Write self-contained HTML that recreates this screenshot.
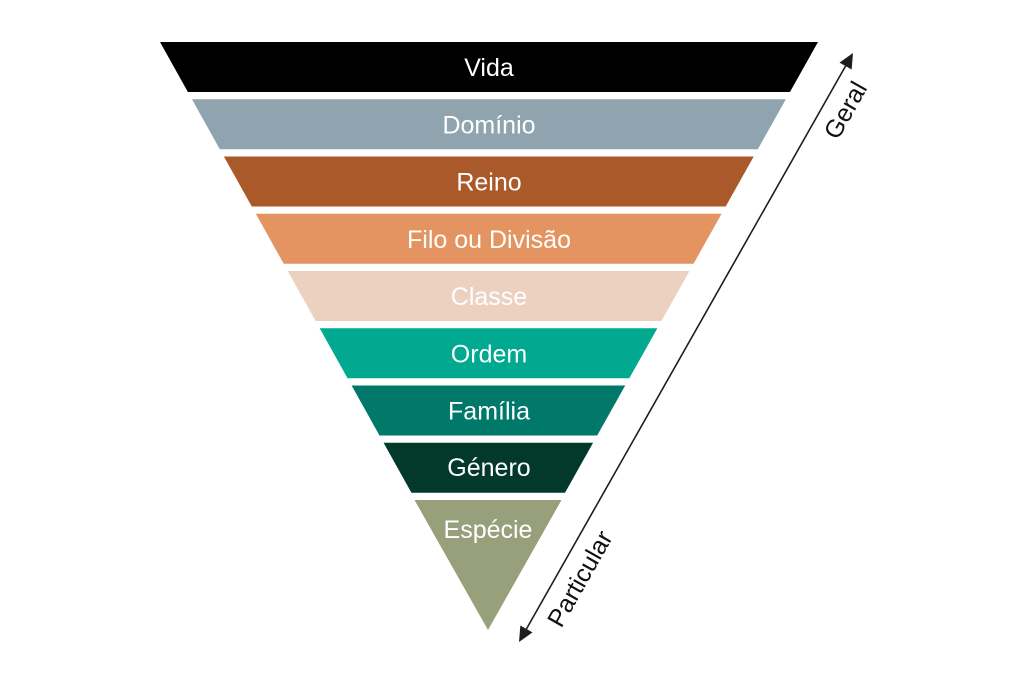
<!DOCTYPE html>
<html>
<head>
<meta charset="utf-8">
<style>
  html, body { margin: 0; padding: 0; background: #ffffff; }
  body { width: 1024px; height: 683px; overflow: hidden; }
  svg { display: block; }
  text { font-family: "Liberation Sans", "DejaVu Sans", sans-serif; font-size: 25px; fill: #ffffff; text-anchor: middle; }
  .lbl { fill: #111111; }
</style>
</head>
<body>
<svg width="1024" height="683" viewBox="0 0 1024 683" xmlns="http://www.w3.org/2000/svg">
  <rect width="1024" height="683" fill="#ffffff"/>

  <!-- Bands -->
  <polygon points="160,42 818,42 789.94,92 187.89,92" fill="#000000"/>
  <polygon points="191.94,99.25 785.87,99.25 757.81,149.25 219.83,149.25" fill="#8fa4ae"/>
  <polygon points="223.87,156.5 753.74,156.5 725.68,206.5 251.76,206.5" fill="#aa5a2a"/>
  <polygon points="255.81,213.75 721.61,213.75 693.55,263.75 283.70,263.75" fill="#e49461"/>
  <polygon points="287.74,271 689.48,271 661.42,321 315.63,321" fill="#ecd1c1"/>
  <polygon points="319.68,328.25 657.35,328.25 629.29,378.25 347.57,378.25" fill="#00a98f"/>
  <polygon points="351.61,385.5 625.22,385.5 597.16,435.5 379.50,435.5" fill="#00796b"/>
  <polygon points="383.55,442.75 593.09,442.75 565.03,492.75 411.44,492.75" fill="#02392b"/>
  <polygon points="414.5,500 561.5,500 488,630" fill="#98a07b"/>

  <!-- Band labels -->
  <text x="489" y="76">Vida</text>
  <text x="489" y="133.25">Domínio</text>
  <text x="489" y="190.5">Reino</text>
  <text x="489" y="247.75">Filo ou Divisão</text>
  <text x="489" y="305">Classe</text>
  <text x="489" y="362.25">Ordem</text>
  <text x="489" y="419.5">Família</text>
  <text x="489" y="476">Género</text>
  <text x="488" y="538">Espécie</text>

  <!-- Double arrow -->
  <line x1="845.6" y1="66" x2="526.4" y2="629" stroke="#1e1e1e" stroke-width="1.6"/>
  <polygon points="853,53 851.66,69.5 839.5,62.58" fill="#1e1e1e"/>
  <polygon points="519,642 520.34,625.5 532.5,632.42" fill="#1e1e1e"/>

  <!-- Arrow labels -->
  <g transform="translate(845,110) rotate(-60.45)">
    <text class="lbl" x="0" y="9">Geral</text>
  </g>
  <g transform="translate(579.5,578.5) rotate(-60.45)">
    <text class="lbl" x="0" y="9">Particular</text>
  </g>
</svg>
</body>
</html>
